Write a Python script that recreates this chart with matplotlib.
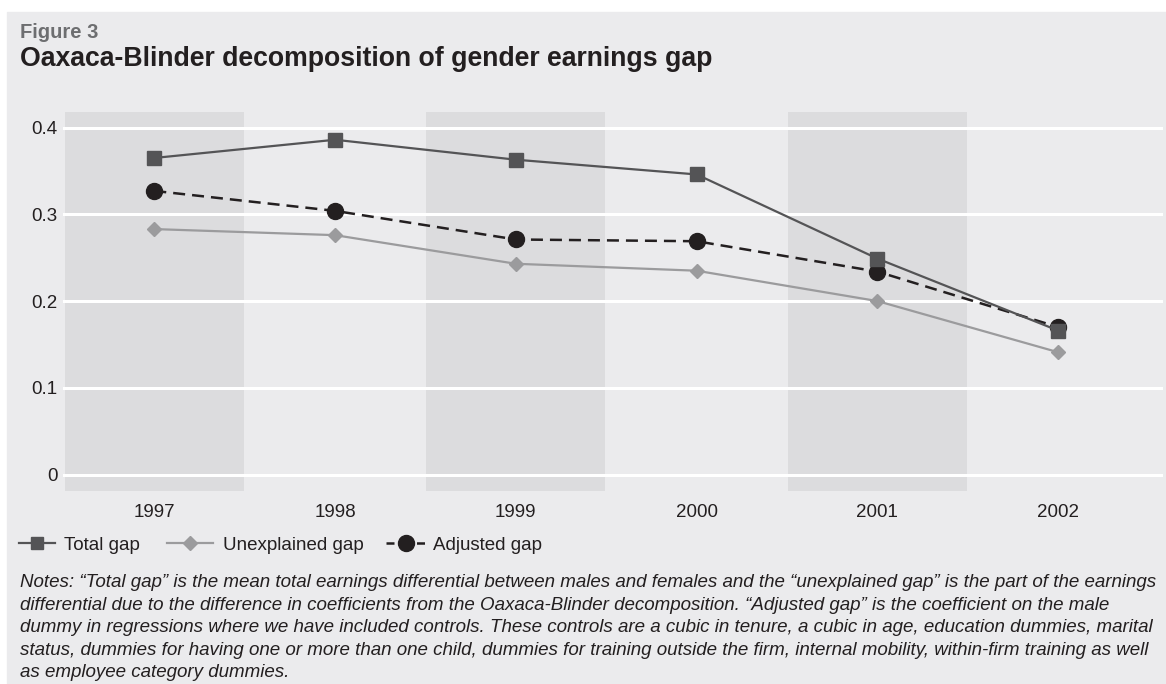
import matplotlib.pyplot as plt
from matplotlib.patches import Rectangle
from matplotlib.lines import Line2D

plt.rcParams['font.family'] = ['Liberation Sans', 'DejaVu Sans']

years = ['1997', '1998', '1999', '2000', '2001', '2002']
total_gap = [0.365, 0.386, 0.363, 0.346, 0.249, 0.166]
unexplained_gap = [0.283, 0.276, 0.243, 0.235, 0.200, 0.141]
adjusted_gap = [0.327, 0.304, 0.271, 0.269, 0.234, 0.170]
yticks = [0, 0.1, 0.2, 0.3, 0.4]
ytick_labels = ['0', '0.1', '0.2', '0.3', '0.4']

bg = '#ebebed'
band = '#dcdcde'
txt = '#231f20'
c_total = '#545456'
c_unexp = '#9b9b9d'
fs = 13.5

W, H = 1166, 684
fig = plt.figure(figsize=(W/100, H/100), dpi=100, facecolor='white')
# grey panel, small white margin top/left
fig.patches.append(Rectangle((7/W, 0), 1 - 7/W, 1 - 12/H,
                             transform=fig.transFigure, color=bg, zorder=-10))

ax = fig.add_axes([63/W, 1 - 491/H, 1100/W, (491 - 112)/H])
ax.set_facecolor(bg)
x = list(range(len(years)))

# alternating shaded bands
for i in x[::2]:
    ax.axvspan(i - 0.495, i + 0.495, color=band, lw=0, zorder=0)

ax.set_xlim(-0.505, 5.58)
ax.set_ylim(-0.019, 0.418)
ax.set_yticks(yticks)
ax.set_yticklabels(ytick_labels)
ax.set_xticks(x)
ax.set_xticklabels(years)
ax.grid(axis='y', color='white', lw=2.2, zorder=1)
ax.set_axisbelow(False)
for s in ax.spines.values():
    s.set_visible(False)
ax.tick_params(length=0, labelsize=fs, colors=txt)
ax.tick_params(axis='y', pad=4)
ax.tick_params(axis='x', pad=9.5)

ax.plot(x, unexplained_gap, color=c_unexp, lw=1.6, marker='D', ms=7.2,
        zorder=3)
ax.plot(x, adjusted_gap, color=txt, lw=1.8, ls=(0, (4.8, 2.8)), marker='o',
        ms=11.5, zorder=4)
ax.plot(x, total_gap, color=c_total, lw=1.6, marker='s', ms=9.4, zorder=5)

# legend: three one-entry legends so each handle gets its own length
entries = [
    (Line2D([], [], color=c_total, lw=1.6, marker='s', ms=8), 'Total gap', 19, 1.92, 0.5),
    (Line2D([], [], color=c_unexp, lw=1.6, marker='D', ms=6.8), 'Unexplained gap', 167, 2.45, 0.55),
    (Line2D([], [], color=txt, lw=1.8, ls=(0, (3.2, 9.0)), marker='o', ms=11.5), 'Adjusted gap', 386, 2.08, 0.45),
]
for h, lab, x0, hl, tp in entries:
    leg = fig.legend([h], [lab], loc='center left', bbox_to_anchor=(x0/W, 1 - 545/H),
                     frameon=False, fontsize=fs, handlelength=hl, handletextpad=tp,
                     borderpad=0, borderaxespad=0)
    for t in leg.get_texts():
        t.set_color(txt)

fig.text(20/W, 1 - 37.5/H, 'Figure 3', fontsize=14.5, fontweight='bold',
         color='#6d6e70', va='baseline')
fig.text(20/W, 1 - 66/H, 'Oaxaca-Blinder decomposition of gender earnings gap',
         fontsize=19.2, fontweight='bold', color=txt, va='baseline')

notes = ('Notes: \u201cTotal gap\u201d is the mean total earnings differential between males and females and the \u201cunexplained gap\u201d is the part of the earnings\n'
         'differential due to the difference in coefficients from the Oaxaca-Blinder decomposition. \u201cAdjusted gap\u201d is the coefficient on the male\n'
         'dummy in regressions where we have included controls. These controls are a cubic in tenure, a cubic in age, education dummies, marital\n'
         'status, dummies for having one or more than one child, dummies for training outside the firm, internal mobility, within-firm training as well\n'
         'as employee category dummies.')
fig.text(20/W, 1 - 574/H, notes, fontsize=fs, style='italic', color=txt,
         va='top', linespacing=1.43)

fig.savefig('out.png', dpi=100, facecolor=fig.get_facecolor())
